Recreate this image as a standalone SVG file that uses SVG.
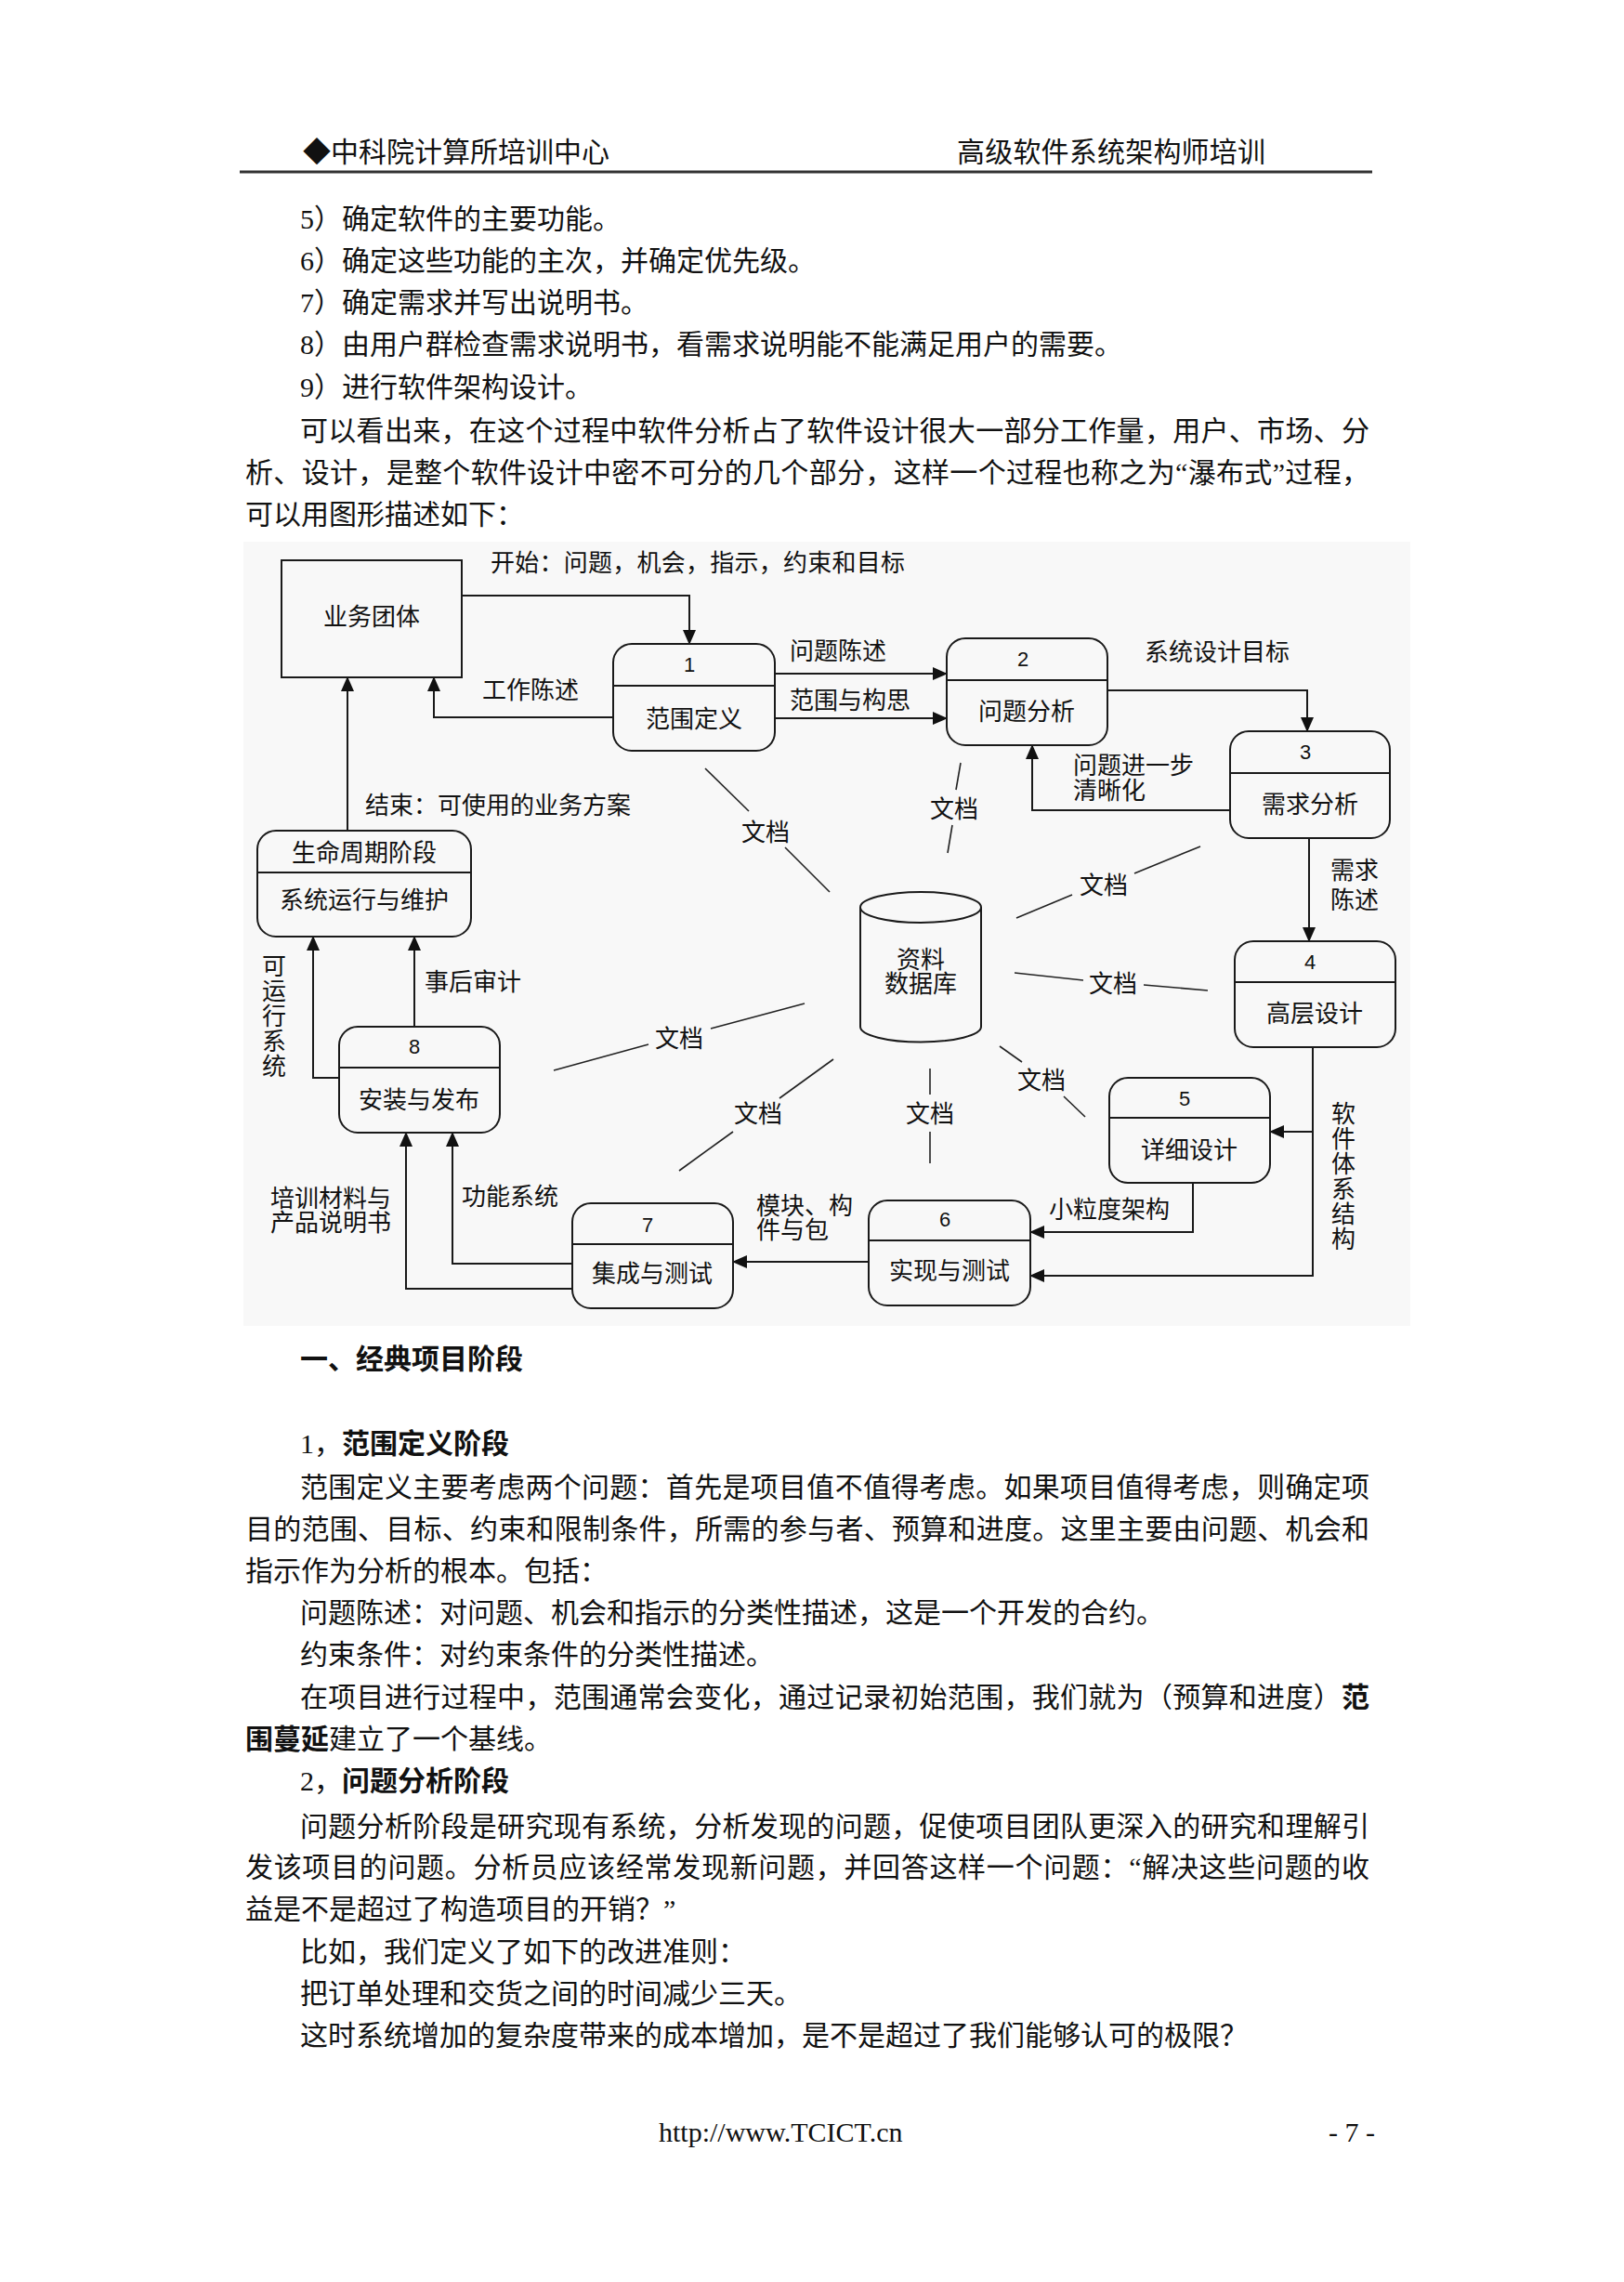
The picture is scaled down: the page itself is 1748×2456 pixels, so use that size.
<svg xmlns="http://www.w3.org/2000/svg" width="1748" height="2456" viewBox="0 0 1748 2456">
<defs>
<style>
.body{font-family:"Liberation Serif","Noto Sans CJK SC",serif;font-size:30px;fill:#111}
.b{font-weight:bold}
.lbl{font-family:"Noto Sans CJK SC",sans-serif;font-size:26px;fill:#111}
.num{font-family:"Liberation Sans",sans-serif;font-size:22px;fill:#111}
.mid{text-anchor:middle}
.shape{fill:none;stroke:#1a1a1a;stroke-width:2}
.conn{fill:none;stroke:#1a1a1a;stroke-width:2}
.doc{fill:none;stroke:#222;stroke-width:1.6}
</style>
<marker id="arr" markerUnits="userSpaceOnUse" markerWidth="16" markerHeight="14" refX="15" refY="7" orient="auto">
<path d="M0,0 L16,7 L0,14 Z" fill="#111"/>
</marker>
</defs>
<rect x="0" y="0" width="1748" height="2456" fill="#ffffff"/>

<!-- header -->
<text class="body" x="326" y="174">◆中科院计算所培训中心</text>
<text class="body" x="1030" y="174" textLength="332" lengthAdjust="spacing">高级软件系统架构师培训</text>
<line x1="258" y1="185" x2="1477" y2="185" stroke="#333" stroke-width="3"/>

<!-- intro text -->
<text class="body" x="323" y="246">5）确定软件的主要功能。</text>
<text class="body" x="323" y="291">6）确定这些功能的主次，并确定优先级。</text>
<text class="body" x="323" y="336">7）确定需求并写出说明书。</text>
<text class="body" x="323" y="381">8）由用户群检查需求说明书，看需求说明能不能满足用户的需要。</text>
<text class="body" x="323" y="427">9）进行软件架构设计。</text>
<text class="body" x="323" y="474" textLength="1151" lengthAdjust="spacing">可以看出来，在这个过程中软件分析占了软件设计很大一部分工作量，用户、市场、分</text>
<text class="body" x="264" y="519" textLength="1210" lengthAdjust="spacing">析、设计，是整个软件设计中密不可分的几个部分，这样一个过程也称之为“瀑布式”过程，</text>
<text class="body" x="264" y="564">可以用图形描述如下：</text>

<!-- diagram background -->
<rect x="262" y="583" width="1256" height="844" fill="#f8f8f8"/>

<g id="connectors">
<path class="conn" d="M497,641 H742 V693" marker-end="url(#arr)"/>
<path class="conn" d="M660,772 H467 V729" marker-end="url(#arr)"/>
<path class="conn" d="M834,725 H1019" marker-end="url(#arr)"/>
<path class="conn" d="M834,773 H1019" marker-end="url(#arr)"/>
<path class="conn" d="M1192,743 H1407 V787" marker-end="url(#arr)"/>
<path class="conn" d="M1324,872 H1111 V802" marker-end="url(#arr)"/>
<path class="conn" d="M1409,902 V1013" marker-end="url(#arr)"/>
<path class="conn" d="M1413,1127 V1373 H1109" marker-end="url(#arr)"/>
<path class="conn" d="M1413,1218 H1367" marker-end="url(#arr)"/>
<path class="conn" d="M1284,1273 V1326 H1109" marker-end="url(#arr)"/>
<path class="conn" d="M935,1358 H789" marker-end="url(#arr)"/>
<path class="conn" d="M616,1360 H487 V1219" marker-end="url(#arr)"/>
<path class="conn" d="M616,1387 H437 V1219" marker-end="url(#arr)"/>
<path class="conn" d="M446,1105 V1008" marker-end="url(#arr)"/>
<path class="conn" d="M365,1160 H337 V1008" marker-end="url(#arr)"/>
<path class="conn" d="M374,893 V729" marker-end="url(#arr)"/>
<!-- document links -->
<line class="doc" x1="759" y1="827" x2="806" y2="873"/>
<line class="doc" x1="845" y1="912" x2="893" y2="960"/>
<line class="doc" x1="1034" y1="821" x2="1029" y2="850"/>
<line class="doc" x1="1025" y1="888" x2="1020" y2="918"/>
<line class="doc" x1="1292" y1="911" x2="1221" y2="940"/>
<line class="doc" x1="1154" y1="963" x2="1094" y2="988"/>
<line class="doc" x1="1092" y1="1047" x2="1166" y2="1055"/>
<line class="doc" x1="1231" y1="1060" x2="1300" y2="1066"/>
<line class="doc" x1="1076" y1="1126" x2="1100" y2="1143"/>
<line class="doc" x1="1145" y1="1180" x2="1168" y2="1202"/>
<line class="doc" x1="1001" y1="1150" x2="1001" y2="1178"/>
<line class="doc" x1="1001" y1="1218" x2="1001" y2="1252"/>
<line class="doc" x1="897" y1="1140" x2="839" y2="1182"/>
<line class="doc" x1="789" y1="1218" x2="731" y2="1260"/>
<line class="doc" x1="596" y1="1152" x2="698" y2="1124"/>
<line class="doc" x1="765" y1="1107" x2="866" y2="1080"/>
<!-- connector labels -->
<text class="lbl" x="528" y="615" textLength="446" lengthAdjust="spacing">开始：问题，机会，指示，约束和目标</text>
<text class="lbl mid" x="571" y="752">工作陈述</text>
<text class="lbl" x="850" y="710">问题陈述</text>
<text class="lbl" x="850" y="763">范围与构思</text>
<text class="lbl mid" x="1310" y="711">系统设计目标</text>
<text class="lbl" x="1155" y="833">问题进一步<tspan x="1155" dy="27">清晰化</tspan></text>
<text class="lbl mid" x="1458" y="946">需求<tspan x="1458" dy="32">陈述</tspan></text>
<text class="lbl mid" x="1446" y="1208">软<tspan x="1446" dy="27">件</tspan><tspan x="1446" dy="27">体</tspan><tspan x="1446" dy="27">系</tspan><tspan x="1446" dy="27">结</tspan><tspan x="1446" dy="27">构</tspan></text>
<text class="lbl mid" x="1194" y="1311">小粒度架构</text>
<text class="lbl" x="814" y="1307">模块、构<tspan x="814" dy="26">件与包</tspan></text>
<text class="lbl mid" x="549" y="1297">功能系统</text>
<text class="lbl mid" x="356" y="1299">培训材料与<tspan x="356" dy="26">产品说明书</tspan></text>
<text class="lbl mid" x="509" y="1066">事后审计</text>
<text class="lbl mid" x="295" y="1049">可<tspan x="295" dy="27">运</tspan><tspan x="295" dy="27">行</tspan><tspan x="295" dy="27">系</tspan><tspan x="295" dy="27">统</tspan></text>
<text class="lbl" x="393" y="876">结束：可使用的业务方案</text>
<text class="lbl mid" x="824" y="905">文档</text>
<text class="lbl mid" x="1027" y="880">文档</text>
<text class="lbl mid" x="1188" y="962">文档</text>
<text class="lbl mid" x="1198" y="1068">文档</text>
<text class="lbl mid" x="1121" y="1172">文档</text>
<text class="lbl mid" x="1001" y="1208">文档</text>
<text class="lbl mid" x="816" y="1208">文档</text>
<text class="lbl mid" x="731" y="1127">文档</text>
</g>

<g id="node-business">
<rect class="shape" x="303" y="603" width="194" height="126"/>
<text class="lbl mid" x="400" y="673">业务团体</text>
</g>
<g id="node-1">
<rect class="shape" x="660" y="693" width="174" height="115" rx="20"/>
<line class="shape" x1="660" y1="738" x2="834" y2="738"/>
<text class="num mid" x="742" y="723">1</text>
<text class="lbl mid" x="747" y="783">范围定义</text>
</g>
<g id="node-2">
<rect class="shape" x="1019" y="687" width="173" height="115" rx="20"/>
<line class="shape" x1="1019" y1="732" x2="1192" y2="732"/>
<text class="num mid" x="1101" y="717">2</text>
<text class="lbl mid" x="1105" y="775">问题分析</text>
</g>
<g id="node-3">
<rect class="shape" x="1324" y="787" width="172" height="115" rx="20"/>
<line class="shape" x1="1324" y1="832" x2="1496" y2="832"/>
<text class="num mid" x="1405" y="817">3</text>
<text class="lbl mid" x="1410" y="875">需求分析</text>
</g>
<g id="node-4">
<rect class="shape" x="1329" y="1013" width="173" height="114" rx="20"/>
<line class="shape" x1="1329" y1="1057" x2="1502" y2="1057"/>
<text class="num mid" x="1410" y="1043">4</text>
<text class="lbl mid" x="1415" y="1100">高层设计</text>
</g>
<g id="node-5">
<rect class="shape" x="1194" y="1160" width="173" height="113" rx="20"/>
<line class="shape" x1="1194" y1="1203" x2="1367" y2="1203"/>
<text class="num mid" x="1275" y="1190">5</text>
<text class="lbl mid" x="1280" y="1247">详细设计</text>
</g>
<g id="node-6">
<rect class="shape" x="935" y="1292" width="174" height="113" rx="20"/>
<line class="shape" x1="935" y1="1335" x2="1109" y2="1335"/>
<text class="num mid" x="1017" y="1320">6</text>
<text class="lbl mid" x="1022" y="1377">实现与测试</text>
</g>
<g id="node-7">
<rect class="shape" x="616" y="1295" width="173" height="113" rx="20"/>
<line class="shape" x1="616" y1="1339" x2="789" y2="1339"/>
<text class="num mid" x="697" y="1326">7</text>
<text class="lbl mid" x="702" y="1380">集成与测试</text>
</g>
<g id="node-8">
<rect class="shape" x="365" y="1105" width="173" height="114" rx="20"/>
<line class="shape" x1="365" y1="1149" x2="538" y2="1149"/>
<text class="num mid" x="446" y="1134">8</text>
<text class="lbl mid" x="451" y="1193">安装与发布</text>
</g>
<g id="node-lifecycle">
<rect class="shape" x="277" y="894" width="230" height="114" rx="20"/>
<line class="shape" x1="277" y1="939" x2="507" y2="939"/>
<text class="lbl mid" x="392" y="927">生命周期阶段</text>
<text class="lbl mid" x="392" y="978">系统运行与维护</text>
</g>
<g id="node-database">
<path class="shape" d="M926,976.5 V1105 A65,16.5 0 0 0 1056,1105 V976.5"/>
<ellipse class="shape" cx="991" cy="976.5" rx="65" ry="16.5"/>
<text class="lbl mid" x="991" y="1042">资料<tspan x="991" dy="26">数据库</tspan></text>
</g>

<!-- body text after diagram -->
<text class="body b" x="323" y="1473">一、经典项目阶段</text>
<text class="body" x="323" y="1564">1，<tspan class="b">范围定义阶段</tspan></text>
<text class="body" x="323" y="1611" textLength="1151" lengthAdjust="spacing">范围定义主要考虑两个问题：首先是项目值不值得考虑。如果项目值得考虑，则确定项</text>
<text class="body" x="264" y="1656" textLength="1210" lengthAdjust="spacing">目的范围、目标、约束和限制条件，所需的参与者、预算和进度。这里主要由问题、机会和</text>
<text class="body" x="264" y="1701">指示作为分析的根本。包括：</text>
<text class="body" x="323" y="1746">问题陈述：对问题、机会和指示的分类性描述，这是一个开发的合约。</text>
<text class="body" x="323" y="1791">约束条件：对约束条件的分类性描述。</text>
<text class="body" x="323" y="1837" textLength="1151" lengthAdjust="spacing">在项目进行过程中，范围通常会变化，通过记录初始范围，我们就为（预算和进度）<tspan class="b">范</tspan></text>
<text class="body" x="264" y="1882"><tspan class="b">围蔓延</tspan>建立了一个基线。</text>
<text class="body" x="323" y="1927">2，<tspan class="b">问题分析阶段</tspan></text>
<text class="body" x="323" y="1976" textLength="1151" lengthAdjust="spacing">问题分析阶段是研究现有系统，分析发现的问题，促使项目团队更深入的研究和理解引</text>
<text class="body" x="264" y="2020" textLength="1210" lengthAdjust="spacing">发该项目的问题。分析员应该经常发现新问题，并回答这样一个问题：“解决这些问题的收</text>
<text class="body" x="264" y="2065">益是不是超过了构造项目的开销？”</text>
<text class="body" x="323" y="2111">比如，我们定义了如下的改进准则：</text>
<text class="body" x="323" y="2156">把订单处理和交货之间的时间减少三天。</text>
<text class="body" x="323" y="2201">这时系统增加的复杂度带来的成本增加，是不是超过了我们能够认可的极限？</text>

<!-- footer -->
<text class="body" x="709" y="2305">http://www.TCICT.cn</text>
<text class="body" x="1430" y="2305">- 7 -</text>
</svg>
